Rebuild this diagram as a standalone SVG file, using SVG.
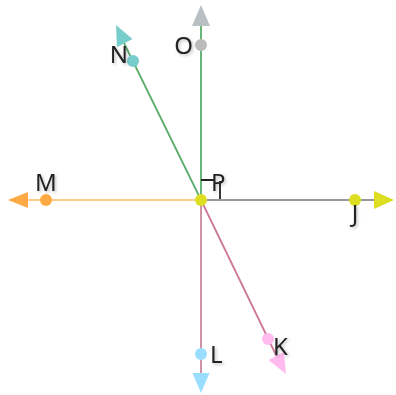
<svg xmlns="http://www.w3.org/2000/svg" width="396" height="395" viewBox="0 0 396 395">
<defs>
<filter id="sh" x="-50%" y="-50%" width="200%" height="200%">
<feDropShadow dx="1.5" dy="1.5" stdDeviation="1.5" flood-color="#000" flood-opacity="0.25"/>
</filter>
<style>
.lbl{font-family:"Noto Sans","Liberation Sans",sans-serif;font-size:24px;fill:#222;filter:url(#sh)}
.ln{fill:none;stroke-width:1.8}
</style>
</defs>
<rect width="396" height="395" fill="#fff"/>
<g id="connectors">
<line class="ln" x1="201" y1="200" x2="201" y2="24" stroke="#5aad6a"/>
<line class="ln" x1="201" y1="200" x2="124" y2="43" stroke="#5aad6a"/>
<line class="ln" x1="201" y1="200" x2="26" y2="200" stroke="#ffcc88"/>
<line class="ln" x1="201" y1="200" x2="376" y2="200" stroke="#999"/>
<line class="ln" x1="201" y1="200" x2="201" y2="376" stroke="#cc8899"/>
<line class="ln" x1="201" y1="200" x2="277" y2="357" stroke="#cc7799"/>
<polygon points="201,5 192,26 210,26" fill="#b8c0c4"/>
<polygon points="116,25 132.5,39 117,47" fill="#77cccc"/>
<polygon points="8,200 28,192 28,208" fill="#ffaa44"/>
<polygon points="394,200 374,191 374,209" fill="#dddd22"/>
<polygon points="201,393 192.5,373 209.5,373" fill="#99ddff"/>
<polygon points="286,374 284,352 268.5,360" fill="#ffbbee"/>
</g>
<g id="O"><circle cx="201" cy="45" r="6" fill="#bbbbbb"/><text class="lbl" x="193" y="54" text-anchor="end">O</text></g>
<g id="N"><circle cx="133" cy="61" r="6" fill="#77cccc"/><text class="lbl" x="128" y="63" text-anchor="end">N</text></g>
<g id="M"><circle cx="46" cy="200" r="6" fill="#ffaa44"/><text class="lbl" x="46" y="191" text-anchor="middle">M</text></g>
<g id="J"><circle cx="355" cy="200" r="6" fill="#dddd22"/><text class="lbl" x="355" y="222" text-anchor="middle">J</text></g>
<g id="L"><circle cx="201" cy="354" r="6" fill="#99ddff"/><text class="lbl" x="210" y="363">L</text></g>
<g id="K"><circle cx="268" cy="339" r="6" fill="#ffbbee"/><text class="lbl" x="273" y="355">K</text></g>
<g id="P"><circle cx="201" cy="200" r="6" fill="#dddd22"/>
<path d="M201,180 H215 M220,181 V199" fill="none" stroke="#222" stroke-width="1.8"/>
<text class="lbl" x="211" y="191">P</text></g>
</svg>
